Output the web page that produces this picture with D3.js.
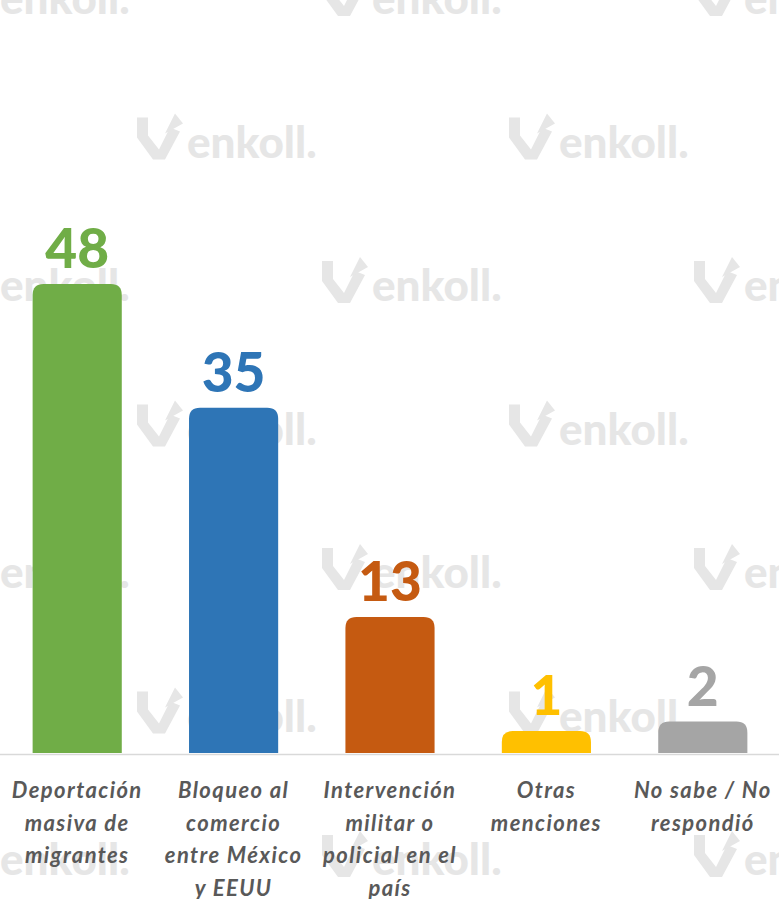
<!DOCTYPE html>
<html>
<head>
<meta charset="utf-8">
<script src="https://cdn.jsdelivr.net/npm/d3@7"></script>
<style>
  body { margin: 0; background: #fff; }
  svg { display: block; }
</style>
</head>
<body>
<svg></svg>
<script>
const categories = [
  "Deportación masiva de migrantes",
  "Bloqueo al comercio entre México y EEUU",
  "Intervención militar o policial en el país",
  "Otras menciones",
  "No sabe / No respondió"
];
const labelLines = [
  ["Deportación", "masiva de", "migrantes"],
  ["Bloqueo al", "comercio", "entre México", "y EEUU"],
  ["Intervención", "militar o", "policial en el", "país"],
  ["Otras", "menciones"],
  ["No sabe / No", "respondió"]
];
const values = [48, 35, 13, 1, 2];
const colors = ["#70AD47", "#2E75B6", "#C55A11", "#FFC000", "#A5A5A5"];

const width = 779;
const height = 899;
const baseY = 753;

const svg = d3.select("svg").attr("width", width).attr("height", height);

// watermark tiles
const wm = svg.append("g").attr("fill", "#e6e6e6");
for (let r = 0; r < 7; r++) {
  const y = 14 + 143.5 * r;
  const x0 = r % 2 === 0 ? -50 : 137;
  for (let x = x0; x < width; x += 372) {
    const t = wm.append("g").attr("transform", `translate(${x},${y})`);
    t.append("path")
      .attr("d", "M0,-40 L11,-40 L11,-22 L22,-8 L33,-30 L43,-26 L28,2 L16,2 L0,-20 Z");
    t.append("path")
      .attr("d", "M28,-24 L38,-44 L46,-34 Z");
    t.append("text")
      .attr("x", 50)
      .attr("font-family", "Lato, sans-serif")
      .attr("font-weight", 900)
      .attr("font-size", 44)
      .text("enkoll.");
  }
}

const x = d3.scaleBand()
  .domain(categories)
  .range([-1, 781])
  .paddingInner(0.43)
  .paddingOuter(0.215);

const y = d3.scaleLinear().domain([-1.3, 48]).range([baseY, 284]);

// baseline
svg.append("g")
  .attr("transform", `translate(0,${baseY + 1})`)
  .call(d3.axisBottom(x).tickSize(0).tickFormat(""))
  .call(g => g.select(".domain").attr("stroke", "#d9d9d9").attr("stroke-width", 1.5));

const rr = 11;
const barPath = (d, i) => {
  const x0 = x(categories[i]), w = x.bandwidth();
  const top = y(d), r = Math.min(rr, (baseY - top) / 2);
  return `M${x0},${baseY} L${x0},${top + r} Q${x0},${top} ${x0 + r},${top}` +
    ` L${x0 + w - r},${top} Q${x0 + w},${top} ${x0 + w},${top + r} L${x0 + w},${baseY} Z`;
};

svg.append("g")
  .selectAll("path")
  .data(values)
  .join("path")
  .attr("d", barPath)
  .attr("fill", (d, i) => colors[i]);

svg.append("g")
  .selectAll("text")
  .data(values)
  .join("text")
  .attr("x", (d, i) => x(categories[i]) + x.bandwidth() / 2)
  .attr("y", d => y(d) - 16)
  .attr("text-anchor", "middle")
  .attr("font-family", "Lato, sans-serif")
  .attr("font-weight", 900)
  .attr("font-size", 55)
  .attr("fill", (d, i) => colors[i])
  .text(d => d);

const lab = svg.append("g")
  .selectAll("text")
  .data(labelLines)
  .join("text")
  .attr("text-anchor", "middle")
  .attr("font-family", "Lato, sans-serif")
  .attr("font-style", "italic")
  .attr("font-weight", 700)
  .attr("font-size", 22)
  .attr("letter-spacing", 1.4)
  .attr("fill", "#595959");

lab.selectAll("tspan")
  .data((d, i) => d.map(line => ({ line, i })))
  .join("tspan")
  .attr("x", d => x(categories[d.i]) + x.bandwidth() / 2)
  .attr("y", (d, j) => 798 + j * 32.5)
  .text(d => d.line);
</script>
</body>
</html>
